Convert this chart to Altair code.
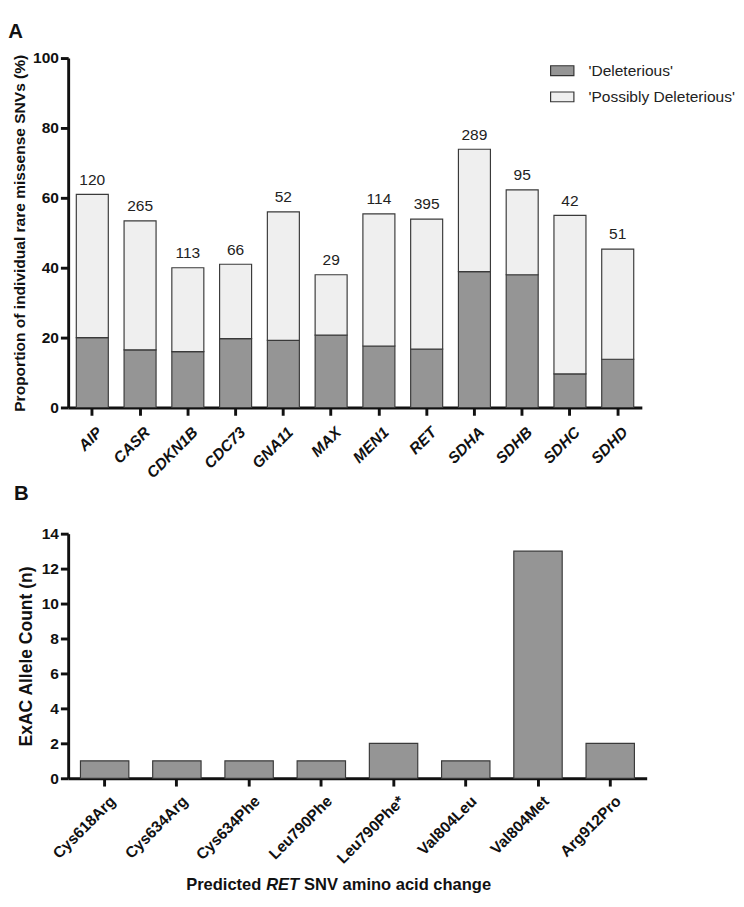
import altair as alt
import pandas as pd

# Panel A data
genes = ["AIP", "CASR", "CDKN1B", "CDC73", "GNA11", "MAX", "MEN1", "RET", "SDHA", "SDHB", "SDHC", "SDHD"]
deleterious = [20.0, 16.5, 16.0, 19.7, 19.2, 20.7, 17.6, 16.7, 38.9, 38.0, 9.6, 13.8]
total = [61.0, 53.4, 40.0, 41.0, 56.0, 38.0, 55.4, 53.9, 73.9, 62.3, 55.0, 45.3]
counts = ["120", "265", "113", "66", "52", "29", "114", "395", "289", "95", "42", "51"]

# Panel B data
changes = ["Cys618Arg", "Cys634Arg", "Cys634Phe", "Leu790Phe", "Leu790Phe*", "Val804Leu", "Val804Met", "Arg912Pro"]
allele_counts = [1, 1, 1, 1, 2, 1, 13, 2]

cat_del = "'Deleterious'"
cat_pos = "'Possibly Deleterious'"

rows = []
for g, d, t in zip(genes, deleterious, total):
    rows.append({"gene": g, "cat": cat_del, "value": d, "ord": 0})
    rows.append({"gene": g, "cat": cat_pos, "value": round(t - d, 2), "ord": 1})
dfA = pd.DataFrame(rows)
dfA_lab = pd.DataFrame({"gene": genes, "total": total, "n": counts})
dfB = pd.DataFrame({"change": changes, "count": allele_counts})

FONT = "Liberation Sans"
INK = "#111111"

xA = alt.X("gene:N", sort=genes, title=None,
           scale=alt.Scale(paddingInner=0.33, paddingOuter=0.17),
           axis=alt.Axis(labelAngle=-45, labelFontStyle="italic", labelAlign="right",
                         labelBaseline="top", labelPadding=9, labelOffset=2, labelFontSize=16))

bars = alt.Chart(dfA).mark_bar(stroke="#3a3a3a", strokeWidth=1.2).encode(
    x=xA,
    y=alt.Y("value:Q", stack="zero",
            scale=alt.Scale(domain=[0, 100]),
            axis=alt.Axis(values=[0, 20, 40, 60, 80, 100], title="Proportion of individual rare missense SNVs (%)",
                          titlePadding=5, titleFontSize=16)),
    color=alt.Color("cat:N",
                    scale=alt.Scale(domain=[cat_del, cat_pos], range=["#959595", "#efefef"]),
                    legend=alt.Legend(title=None, orient="none", legendX=496, legendY=0,
                                      symbolType="M-1,-0.42H1V0.42H-1Z", symbolSize=576,
                                      symbolStrokeColor="#333333", symbolStrokeWidth=1.2,
                                      labelFontSize=16, labelFont=FONT, labelColor="#222222",
                                      labelOffset=14, rowPadding=6)),
    order=alt.Order("ord:Q"),
)

labels = alt.Chart(dfA_lab).mark_text(baseline="bottom", dy=-7, fontSize=16, font=FONT, color="#222222").encode(
    x=alt.X("gene:N", sort=genes),
    y=alt.Y("total:Q"),
    text="n:N",
)

chartA = alt.layer(bars, labels).properties(
    width=591, height=360,
    title=alt.TitleParams("A", anchor="start", frame="bounds", fontSize=21, fontWeight="bold",
                          font=FONT, offset=9, dx=-4, color=INK),
)

barsB = alt.Chart(dfB).mark_bar(color="#959595", stroke="#3a3a3a", strokeWidth=1.2).encode(
    x=alt.X("change:N", sort=changes, title=None,
            scale=alt.Scale(paddingInner=0.33, paddingOuter=0.17),
            axis=alt.Axis(labelAngle=-45, labelAlign="right", labelBaseline="top",
                          labelPadding=7, labelOffset=3, labelFontSize=16)),
    y=alt.Y("count:Q", scale=alt.Scale(domain=[0, 14]),
            axis=alt.Axis(values=[0, 2, 4, 6, 8, 10, 12, 14], title="ExAC Allele  Count (n)",
                          titlePadding=6, titleFontSize=18)),
)

tdf = pd.DataFrame({"a": [0]})
t1 = alt.Chart(tdf).mark_text(text="Predicted", align="right", baseline="middle", fontSize=17,
                              fontWeight="bold", font=FONT, color=INK).encode(
    x=alt.value(199), y=alt.value(362))
t2 = alt.Chart(tdf).mark_text(text="RET", align="center", baseline="middle", fontSize=17,
                              fontWeight="bold", fontStyle="italic", font=FONT, color=INK).encode(
    x=alt.value(221), y=alt.value(362))
t3 = alt.Chart(tdf).mark_text(text="SNV amino acid change", align="left", baseline="middle", fontSize=17,
                              fontWeight="bold", font=FONT, color=INK).encode(
    x=alt.value(243), y=alt.value(362))

chartB = alt.layer(barsB, t1, t2, t3).properties(
    width=596, height=252,
    title=alt.TitleParams("B", anchor="start", frame="bounds", fontSize=21, fontWeight="bold",
                          font=FONT, offset=23, dx=-4, color=INK),
)

chart = alt.vconcat(chartA, chartB, spacing=2).properties(padding=0).configure_view(
    stroke=None
).configure_axis(
    labelFont=FONT, labelFontWeight="bold", labelFontSize=16, labelColor=INK,
    titleFont=FONT, titleFontWeight="bold", titleFontSize=16, titleColor=INK,
    domainColor=INK, domainWidth=3, tickColor=INK, tickWidth=3, tickSize=8,
    grid=False,
)

chart.save("out.html", embed_options={"renderer": "svg", "actions": False})
